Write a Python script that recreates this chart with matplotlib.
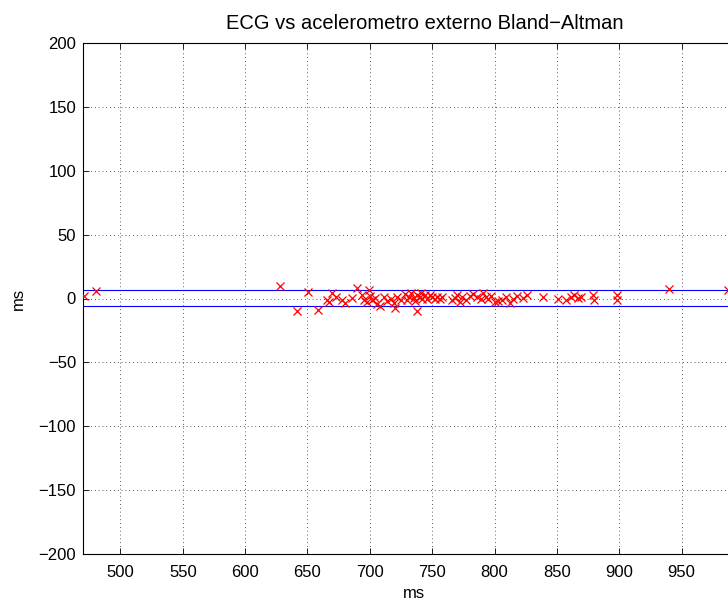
import matplotlib
matplotlib.use("Agg")
import matplotlib.pyplot as plt
import numpy as np

plt.rcParams['font.family'] = ['Liberation Sans', 'DejaVu Sans']

title = "ECG vs acelerometro externo Bland\u2212Altman"
xlabel = "ms"
ylabel = "ms"

mean_ms = [470.5, 480.5, 627.6, 641.6, 650.4, 658.4, 665.6, 669.6, 667.0, 673.0,
           677.6, 680.0, 685.6, 689.6, 693.6, 695.0, 699.0, 700.0, 698.0, 702.0,
           704.0, 706.0, 708.3, 711.0, 714.0, 717.0, 719.0, 720.4, 722.0, 725.0,
           728.0, 730.0, 731.0, 733.0, 735.0, 736.0, 737.7, 738.0, 740.0, 741.0,
           742.0, 744.0, 746.0, 748.0, 750.0, 752.0, 754.0, 756.0, 758.0, 766.0,
           768.0, 770.0, 772.0, 774.0, 777.0, 780.0, 783.0, 786.0, 789.0, 791.0,
           793.0, 795.0, 797.0, 800.0, 803.0, 806.0, 809.0, 812.0, 815.0, 818.0,
           823.0, 826.0, 839.0, 851.0, 857.0, 861.0, 864.0, 867.0, 869.0, 879.0,
           880.0, 898.0, 898.5, 940.0, 987.0]
diff_ms = [2.2, 6.1, 9.8, -9.8, 5.3, -9.0, -0.9, 4.3, -2.5, 1.0,
           -0.9, -3.5, 0.4, 8.2, 3.0, -1.5, 6.9, 2.0, -3.0, -1.0,
           0.5, -4.0, -6.1, 1.5, -2.0, 0.0, -3.5, -7.4, 1.0, -1.5,
           3.5, -1.0, 1.5, 4.0, 0.5, -2.0, -10.0, 3.0, 1.0, 4.5,
           -0.5, 2.5, 0.0, 3.0, 1.0, -0.5, 1.5, 0.0, 1.0, -1.5,
           0.5, 3.0, -3.0, 1.0, -1.5, 2.0, 3.5, 1.0, -0.5, 4.0,
           1.5, 0.0, 2.0, -3.0, -2.0, -1.0, 1.5, -3.5, 0.0, 2.0,
           0.5, 3.0, 1.4, -0.5, -1.0, 1.0, 2.5, 0.5, 1.0, 3.0,
           -1.0, 3.0, -1.5, 7.2, 6.7]
upper_limit = 7.0
lower_limit = -6.1

xticks = [500, 550, 600, 650, 700, 750, 800, 850, 900, 950]
yticks = [-200, -150, -100, -50, 0, 50, 100, 150, 200]

fig = plt.figure(figsize=(7.28, 6.04), dpi=100)
ax = fig.add_axes([83/728, 50/604, (744-83)/728, 511/604])

ax.axhline(upper_limit, color='#0000ff', lw=0.8, zorder=2)
ax.axhline(lower_limit, color='#0000ff', lw=0.8, zorder=2)
ax.plot(mean_ms, diff_ms, linestyle='none', marker='x', color='#ff0000',
        markersize=6, markeredgewidth=0.9, zorder=3)

ax.set_xlim(470, 1000)
ax.set_ylim(-200, 200)
ax.set_xticks(xticks)
ax.set_yticks(yticks)
ax.set_yticklabels([str(v).replace('-', '\u2212') for v in yticks])
ax.grid(True, color='black', linestyle=(0, (1, 4)), linewidth=0.55)
ax.tick_params(direction='in', top=True, right=True, length=4, width=0.6,
               labelsize=12)
ax.tick_params(axis='x', pad=8)
ax.tick_params(axis='y', pad=5)
for s in ax.spines.values():
    s.set_linewidth(0.8)
ax.set_title(title, fontsize=14.5, pad=10, x=(425 - 83) / 661)
ax.set_xlabel(xlabel, fontsize=12, labelpad=4.5)
ax.set_ylabel(ylabel, fontsize=12, labelpad=9)

fig.savefig("out.png", dpi=100)
